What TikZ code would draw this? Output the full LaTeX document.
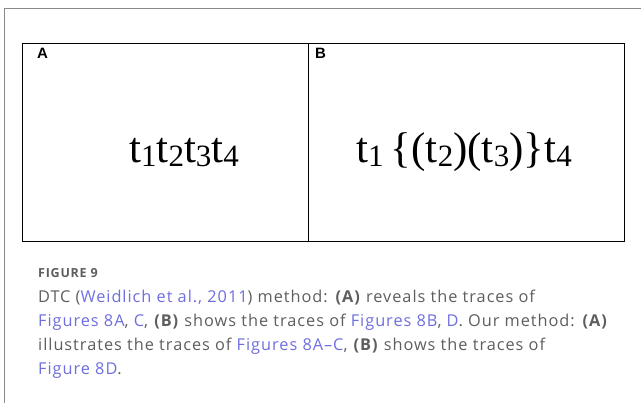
\documentclass[tikz,border=0pt]{standalone}
\usepackage{fontspec}
\setmainfont{Open Sans}[LetterSpace=6]
\newfontfamily\timesf{Liberation Serif}
\newfontfamily\arialf{Liberation Sans}
\definecolor{capgray}{HTML}{5E5E5E}
\definecolor{linkc}{HTML}{6E6EE0}
\definecolor{framegray}{HTML}{8A8A8A}
\newcommand\lk[1]{\textcolor{linkc}{#1}}
\newcommand\sbx[1]{\raisebox{-4pt}{\fontsize{31}{31}\selectfont #1}}
\begin{document}
\begin{tikzpicture}[x=1pt,y=-1pt,
  panel/.style={draw=black,line width=1.4pt},
  plabel/.style={anchor=north west,inner sep=0pt,font=\arialf\bfseries\fontsize{15}{15}\selectfont},
  eq/.style={anchor=base,inner sep=0pt,font=\timesf\fontsize{43}{43}\selectfont},
  capline/.style={anchor=base west,inner sep=0pt,text=capgray,font=\fontsize{16.3}{18}\selectfont}]
\useasboundingbox (0,0) rectangle (641,403);
\fill[white] (0,0) rectangle (641,403);
\draw[framegray,line width=1.2pt] (4.5,403) -- (4.5,8.5) -- (641,8.5);
\node[panel,minimum width=286pt,minimum height=198pt,anchor=north west,inner sep=0pt] (pa) at (22,43) {};
\node[panel,minimum width=316pt,minimum height=198pt,anchor=north west,inner sep=0pt] (pb) at (308,43) {};
\node[plabel] (la) at (37,48) {A};
\node[plabel] (lb) at (315,48) {B};
\node[eq] (ea) at (184,163) {\timesf t\sbx{1}t\sbx{2}t\sbx{3}t\sbx{4}};
\node[eq] (eb) at (464,163) {\timesf t\sbx{1}\,\{(t\sbx{2})(t\sbx{3})\}t\sbx{4}};
\node[capline,font=\bfseries\fontsize{12.5}{14}\selectfont] (fig) at (38,278) {FIGURE 9};
\node[capline] (c1) at (38,303) {DTC (\lk{Weidlich et al., 2011}) method: \textbf{(A)} reveals the traces of};
\node[capline] (c2) at (38,327) {\lk{Figures 8A}, \lk{C}, \textbf{(B)} shows the traces of \lk{Figures 8B}, \lk{D}. Our method: \textbf{(A)}};
\node[capline] (c3) at (38,351) {illustrates the traces of \lk{Figures 8A–C}, \textbf{(B)} shows the traces of};
\node[capline] (c4) at (38,375) {\lk{Figure 8D}.};
\end{tikzpicture}
\end{document}
